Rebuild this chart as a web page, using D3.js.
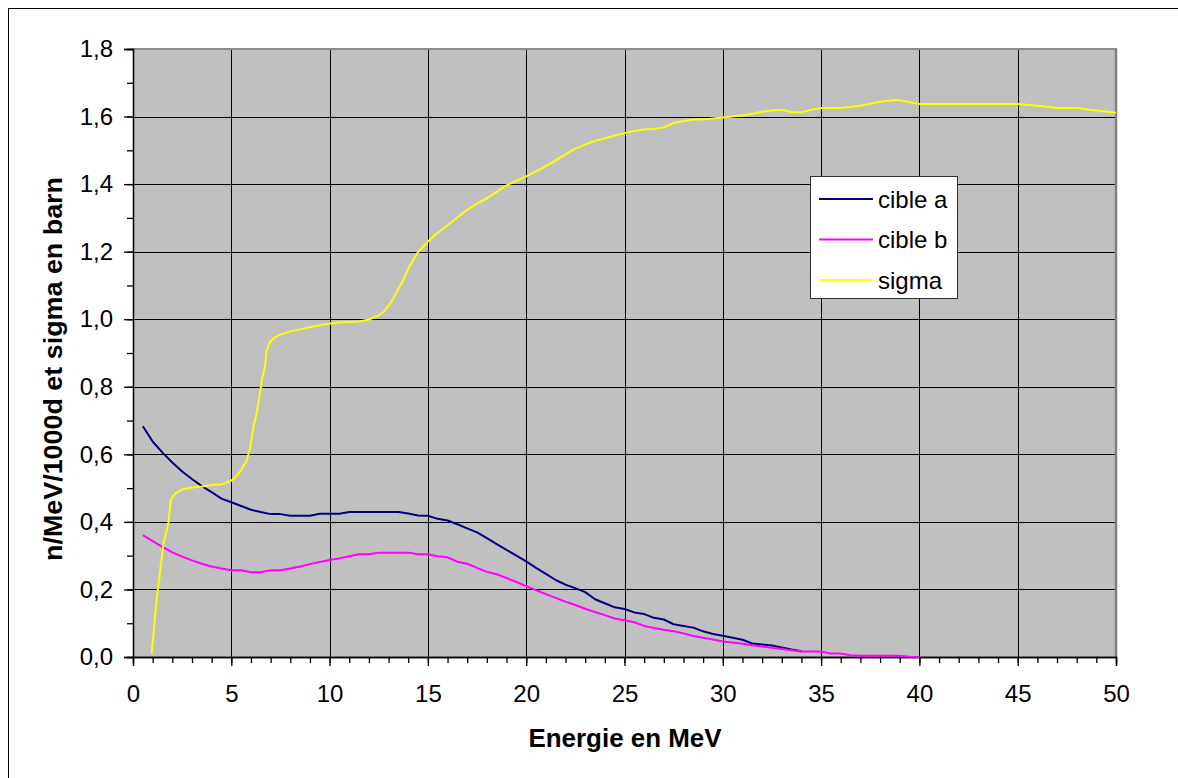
<!DOCTYPE html>
<html>
<head>
<meta charset="utf-8">
<script src="https://cdn.jsdelivr.net/npm/d3@7"></script>
<style>
  html, body { margin: 0; padding: 0; background: #ffffff; }
  svg { display: block; }
  text { font-family: "Liberation Sans", Arial, sans-serif; fill: #000; }
</style>
</head>
<body>
<svg id="chart" width="1178" height="778"></svg>
<script>
// ---- data ----
const xTicks = [0, 5, 10, 15, 20, 25, 30, 35, 40, 45, 50];
const yTicks = [0, 0.2, 0.4, 0.6, 0.8, 1.0, 1.2, 1.4, 1.6, 1.8];
const seriesNames = ["cible a", "cible b", "sigma"];
const seriesColors = ["#000080", "#FF00FF", "#FFFF00"];

const cibleA_E = [0.5, 1.0, 1.5, 2.0, 2.5, 3.0, 3.5, 4.0, 4.5, 5.0, 5.5, 6.0, 6.5, 7.0, 7.5, 8.0, 8.5, 9.0, 9.5, 10.0,
  10.5, 11.0, 11.5, 12.0, 12.5, 13.0, 13.5, 14.0, 14.5, 15.0, 15.5, 16.0, 16.5, 17.0, 17.5, 18.0, 18.5, 19.0, 19.5, 20.0,
  20.5, 21.0, 21.5, 22.0, 22.5, 23.0, 23.5, 24.0, 24.5, 25.0, 25.5, 26.0, 26.5, 27.0, 27.5, 28.0, 28.5, 29.0, 29.5, 30.0,
  30.5, 31.0, 31.5, 32.0, 32.5, 33.0, 33.5, 34.0];
const cibleA_v = [0.683, 0.638, 0.605, 0.576, 0.549, 0.527, 0.506, 0.488, 0.469, 0.458, 0.447, 0.436, 0.429, 0.423, 0.423, 0.418, 0.418, 0.418, 0.424, 0.424,
  0.424, 0.429, 0.429, 0.429, 0.429, 0.429, 0.429, 0.425, 0.419, 0.418, 0.409, 0.404, 0.393, 0.381, 0.369, 0.352, 0.334, 0.317, 0.300, 0.283,
  0.264, 0.246, 0.228, 0.214, 0.204, 0.192, 0.171, 0.159, 0.147, 0.142, 0.132, 0.127, 0.116, 0.111, 0.097, 0.092, 0.087, 0.076, 0.068, 0.063,
  0.057, 0.051, 0.040, 0.037, 0.034, 0.028, 0.022, 0.017];

const cibleB_E = [0.5, 1.0, 1.5, 2.0, 2.5, 3.0, 3.5, 4.0, 4.5, 5.0, 5.5, 6.0, 6.5, 7.0, 7.5, 8.0, 8.5, 9.0, 9.5, 10.0,
  10.5, 11.0, 11.5, 12.0, 12.5, 13.0, 13.5, 14.0, 14.5, 15.0, 15.5, 16.0, 16.5, 17.0, 17.5, 18.0, 18.5, 19.0, 19.5, 20.0,
  20.5, 21.0, 21.5, 22.0, 22.5, 23.0, 23.5, 24.0, 24.5, 25.0, 25.5, 26.0, 26.5, 27.0, 27.5, 28.0, 28.5, 29.0, 29.5, 30.0,
  30.5, 31.0, 31.5, 32.0, 32.5, 33.0, 33.5, 34.0, 34.5, 35.0, 35.5, 36.0, 36.5, 37.0, 37.5, 38.0, 38.5, 39.0, 39.5, 40.0];
const cibleB_v = [0.361, 0.343, 0.326, 0.310, 0.297, 0.286, 0.276, 0.268, 0.262, 0.257, 0.257, 0.251, 0.251, 0.257, 0.257, 0.262, 0.268, 0.275, 0.281, 0.287,
  0.292, 0.298, 0.304, 0.304, 0.309, 0.309, 0.309, 0.309, 0.304, 0.304, 0.298, 0.295, 0.282, 0.276, 0.264, 0.252, 0.245, 0.234, 0.222, 0.210,
  0.198, 0.186, 0.175, 0.164, 0.154, 0.143, 0.133, 0.124, 0.114, 0.109, 0.103, 0.092, 0.086, 0.081, 0.076, 0.070, 0.062, 0.057, 0.052, 0.046,
  0.043, 0.039, 0.035, 0.031, 0.027, 0.024, 0.020, 0.016, 0.016, 0.016, 0.010, 0.010, 0.005, 0.004, 0.004, 0.004, 0.004, 0.004, 0.001, 0.0];

const sigma_E = [0.95, 1.2, 1.55, 1.8, 1.92, 2.14, 2.5, 3.0, 3.5, 4.0, 4.5, 5.0, 5.2, 5.44, 5.78, 5.95, 6.12, 6.29, 6.43, 6.55,
  6.71, 6.8, 6.97, 7.22, 7.5, 8.0, 8.5, 9.0, 9.5, 10.0, 10.5, 11.0, 11.5, 12.0, 12.5, 12.75, 13.0, 13.25, 13.5, 13.75,
  14.0, 14.5, 15.0, 15.5, 16.0, 16.5, 17.0, 17.5, 18.0, 18.5, 19.0, 19.5, 20.0, 20.5, 21.0, 21.5, 22.0, 22.5, 23.0, 23.5,
  24.0, 24.5, 25.0, 25.5, 26.0, 26.5, 27.0, 27.5, 28.0, 28.5, 29.0, 29.5, 30.0, 30.5, 31.0, 31.5, 32.0, 32.5, 33.0, 33.5,
  34.0, 34.5, 35.0, 36.0, 37.0, 38.0, 38.7, 39.0, 40.0, 41.0, 42.0, 43.0, 44.0, 45.0, 46.0, 47.0, 48.0, 49.0, 50.0];
const sigma_v = [0.009, 0.169, 0.336, 0.396, 0.464, 0.484, 0.496, 0.502, 0.505, 0.509, 0.511, 0.522, 0.532, 0.548, 0.581, 0.617, 0.681, 0.721, 0.770, 0.820,
  0.859, 0.908, 0.933, 0.946, 0.955, 0.964, 0.970, 0.976, 0.982, 0.987, 0.990, 0.992, 0.993, 0.999, 1.011, 1.022, 1.040, 1.063, 1.090, 1.115,
  1.150, 1.199, 1.230, 1.256, 1.278, 1.301, 1.324, 1.342, 1.358, 1.377, 1.396, 1.410, 1.423, 1.438, 1.453, 1.470, 1.488, 1.505, 1.517, 1.528,
  1.535, 1.544, 1.551, 1.557, 1.562, 1.563, 1.568, 1.581, 1.587, 1.591, 1.591, 1.594, 1.597, 1.600, 1.603, 1.608, 1.614, 1.618, 1.620, 1.613,
  1.613, 1.620, 1.625, 1.625, 1.632, 1.644, 1.649, 1.648, 1.637, 1.637, 1.637, 1.637, 1.637, 1.637, 1.632, 1.625, 1.625, 1.618, 1.611];

// ---- layout ----
const svg = d3.select("#chart");
const plot = { left: 133, top: 49, right: 1116, bottom: 657 };

const x = d3.scaleLinear().domain([0, 50]).range([plot.left, plot.right]);
const y = d3.scaleLinear().domain([0, 1.8]).range([plot.bottom, plot.top]);

// outer chart border (right/bottom edges lie outside the picture)
svg.append("rect").attr("x", 8.5).attr("y", 8.5).attr("width", 1180).attr("height", 780)
  .attr("fill", "#fff").attr("stroke", "#000").attr("stroke-width", 1);

// plot area
svg.append("rect").attr("x", plot.left).attr("y", plot.top)
  .attr("width", plot.right - plot.left).attr("height", plot.bottom - plot.top)
  .attr("fill", "#C0C0C0");

// gridlines
const gridG = svg.append("g");
gridG.selectAll("line.vg").data(xTicks.filter(t => t > 0 && t < 50)).enter().append("line")
  .attr("x1", d => Math.round(x(d)) + 0.5).attr("x2", d => Math.round(x(d)) + 0.5)
  .attr("y1", plot.top).attr("y2", plot.bottom)
  .attr("stroke", "#000").attr("stroke-width", 1);
gridG.selectAll("line.hg").data(yTicks.filter(t => t > 0 && t < 1.8)).enter().append("line")
  .attr("y1", d => Math.round(y(d)) + 0.5).attr("y2", d => Math.round(y(d)) + 0.5)
  .attr("x1", plot.left).attr("x2", plot.right)
  .attr("stroke", "#000").attr("stroke-width", 1);

// plot frame (top + right in grey)
svg.append("line").attr("x1", plot.left).attr("x2", plot.right + 1).attr("y1", plot.top).attr("y2", plot.top)
  .attr("stroke", "#8c8c8c").attr("stroke-width", 2);
svg.append("line").attr("x1", plot.right).attr("x2", plot.right).attr("y1", plot.top).attr("y2", plot.bottom)
  .attr("stroke", "#808080").attr("stroke-width", 2.5);

// axes
const fmt = d => d3.format(".1f")(d).replace(".", ",");
const minorX = d3.range(0, 51, 1);
const minorY = d3.range(0, 19, 1).map(i => i / 10);

const xAxisG = svg.append("g").attr("transform", `translate(0,${plot.bottom})`)
  .call(d3.axisBottom(x).tickValues(minorX).tickSize(6).tickFormat(""));
const xAxisMajor = svg.append("g").attr("transform", `translate(0,${plot.bottom})`)
  .call(d3.axisBottom(x).tickValues(xTicks).tickSize(9).tickPadding(19).tickFormat(d3.format("d")));
const yAxisG = svg.append("g").attr("transform", `translate(${plot.left},0)`)
  .call(d3.axisLeft(y).tickValues(minorY).tickSize(6).tickFormat(""));
const yAxisMajor = svg.append("g").attr("transform", `translate(${plot.left},0)`)
  .call(d3.axisLeft(y).tickValues(yTicks).tickSize(9).tickPadding(11).tickFormat(fmt));

[xAxisG, xAxisMajor, yAxisG, yAxisMajor].forEach(g => {
  g.selectAll("path.domain").attr("stroke", "#000").attr("stroke-width", 1.3);
  g.selectAll(".tick line").attr("stroke", "#000").attr("stroke-width", 1.3);
  g.selectAll("text").attr("font-family", "'Liberation Sans', Arial, sans-serif")
    .attr("font-size", 24).attr("fill", "#000");
});

// series lines
const line = d3.line().x(d => x(d[0])).y(d => y(d[1]));
const series = [
  d3.zip(cibleA_E, cibleA_v),
  d3.zip(cibleB_E, cibleB_v),
  d3.zip(sigma_E, sigma_v)
];
const linesG = svg.append("g");
linesG.selectAll("path").data(series).enter().append("path")
  .attr("d", line)
  .attr("fill", "none")
  .attr("stroke", (d, i) => seriesColors[i])
  .attr("stroke-width", 2)
  .attr("stroke-linejoin", "round");

// legend
const legend = svg.append("g");
legend.append("rect").attr("x", 810.5).attr("y", 176.5).attr("width", 147).attr("height", 122)
  .attr("fill", "#fff").attr("stroke", "#333").attr("stroke-width", 1);
const legRows = legend.selectAll("g.row").data(seriesNames).enter().append("g")
  .attr("transform", (d, i) => `translate(0,${199 + i * 40.5})`);
legRows.append("line").attr("x1", 819).attr("x2", 873).attr("y1", 0).attr("y2", 0)
  .attr("stroke", (d, i) => seriesColors[i]).attr("stroke-width", 2);
legRows.append("text").attr("x", 878).attr("y", 8.5).attr("font-size", 24).text(d => d);

// axis titles
svg.append("text").attr("x", 625).attr("y", 747).attr("text-anchor", "middle")
  .attr("font-size", 25).attr("font-weight", "bold")
  .attr("textLength", 193).attr("lengthAdjust", "spacingAndGlyphs").text("Energie en MeV");
svg.append("text").attr("transform", "translate(62,369) rotate(-90)").attr("text-anchor", "middle")
  .attr("font-size", 25).attr("font-weight", "bold")
  .attr("textLength", 384).attr("lengthAdjust", "spacingAndGlyphs").text("n/MeV/1000d et sigma en barn");
</script>
</body>
</html>
